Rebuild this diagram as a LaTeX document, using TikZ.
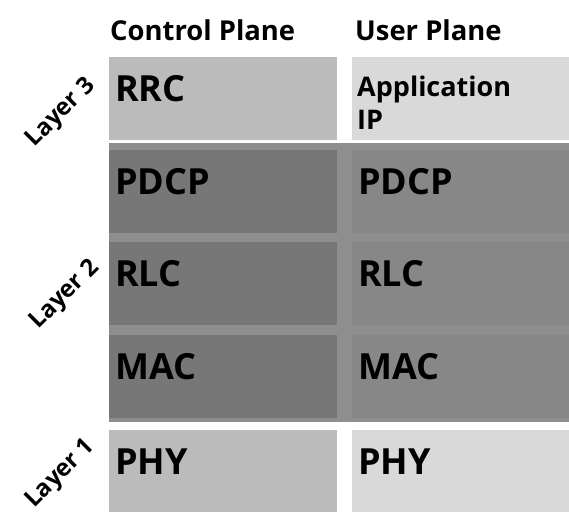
\documentclass[tikz,border=0pt]{standalone}
\usepackage{fontspec}
\setmainfont{Open Sans}
\usetikzlibrary{calc}
\definecolor{cpL}{HTML}{BBBBBB}
\definecolor{upL}{HTML}{D9D9D9}
\definecolor{cpD}{HTML}{777777}
\definecolor{upD}{HTML}{878787}
\definecolor{band}{HTML}{8E8E8E}
\tikzset{
  box/.style={inner sep=0pt, outer sep=0pt, anchor=north west, minimum height=83pt},
  cbox/.style={box, minimum width=228pt},
  ubox/.style={box, minimum width=217pt},
  big/.style={inner sep=0pt, anchor=base west, font=\bfseries\fontsize{36}{42}\selectfont},
  mid/.style={inner sep=0pt, anchor=base west, align=left, font=\bfseries\fontsize{27}{33}\selectfont},
  head/.style={inner sep=0pt, anchor=base west, font=\bfseries\fontsize{27.4}{32}\selectfont},
  layer/.style={inner sep=0pt, rotate=45, font=\bfseries\fontsize{24}{28}\selectfont},
}
\begin{document}
\begin{tikzpicture}[x=1pt,y=-1pt]
\useasboundingbox (0,0) rectangle (569,511);
% headers
\node[head] (hc) at (110,41) {Control Plane};
\node[head] (hu) at (355,41) {User Plane};
% layer 3
\node[cbox, fill=cpL] (rrc) at (109,57) {};
\node[ubox, fill=upL] (app) at (352,57) {};
\node[big] (trrc) at ($(rrc.north west)+(6,44)$) {RRC};
\node[mid] (tapp) at ($(app.north west)+(5,39)$) {Application};
\node[mid] (tip) at ($(app.north west)+(5,72)$) {IP};
% layer 2 band
\node[inner sep=0pt, outer sep=0pt, anchor=north west, minimum width=460pt, minimum height=279pt, fill=band] (l2) at (109,143) {};
\node[cbox, fill=cpD] (pdcpc) at (109,150) {};
\node[ubox, fill=upD] (pdcpu) at (352,150) {};
\node[cbox, fill=cpD] (rlcc) at (109,242) {};
\node[ubox, fill=upD] (rlcu) at (352,242) {};
\node[cbox, fill=cpD] (macc) at (109,335) {};
\node[ubox, fill=upD] (macu) at (352,335) {};
\node[big] at ($(pdcpc.north west)+(6,44)$) {PDCP};
\node[big] at ($(pdcpu.north west)+(6,44)$) {PDCP};
\node[big] at ($(rlcc.north west)+(6,44)$) {RLC};
\node[big] at ($(rlcu.north west)+(6,44)$) {RLC};
\node[big] at ($(macc.north west)+(6,44)$) {MAC};
\node[big] at ($(macu.north west)+(6,44)$) {MAC};
% layer 1
\node[cbox, fill=cpL] (phyc) at (109,430) {};
\node[ubox, fill=upL] (phyu) at (352,430) {};
\node[big] at ($(phyc.north west)+(6,44)$) {PHY};
\node[big] at ($(phyu.north west)+(6,44)$) {PHY};
% layer labels
\node[layer] (l3lab) at (61,113) {Layer 3};
\node[layer] (l2lab) at (65,295) {Layer 2};
\node[layer] (l1lab) at (61,474) {Layer 1};
\end{tikzpicture}
\end{document}
